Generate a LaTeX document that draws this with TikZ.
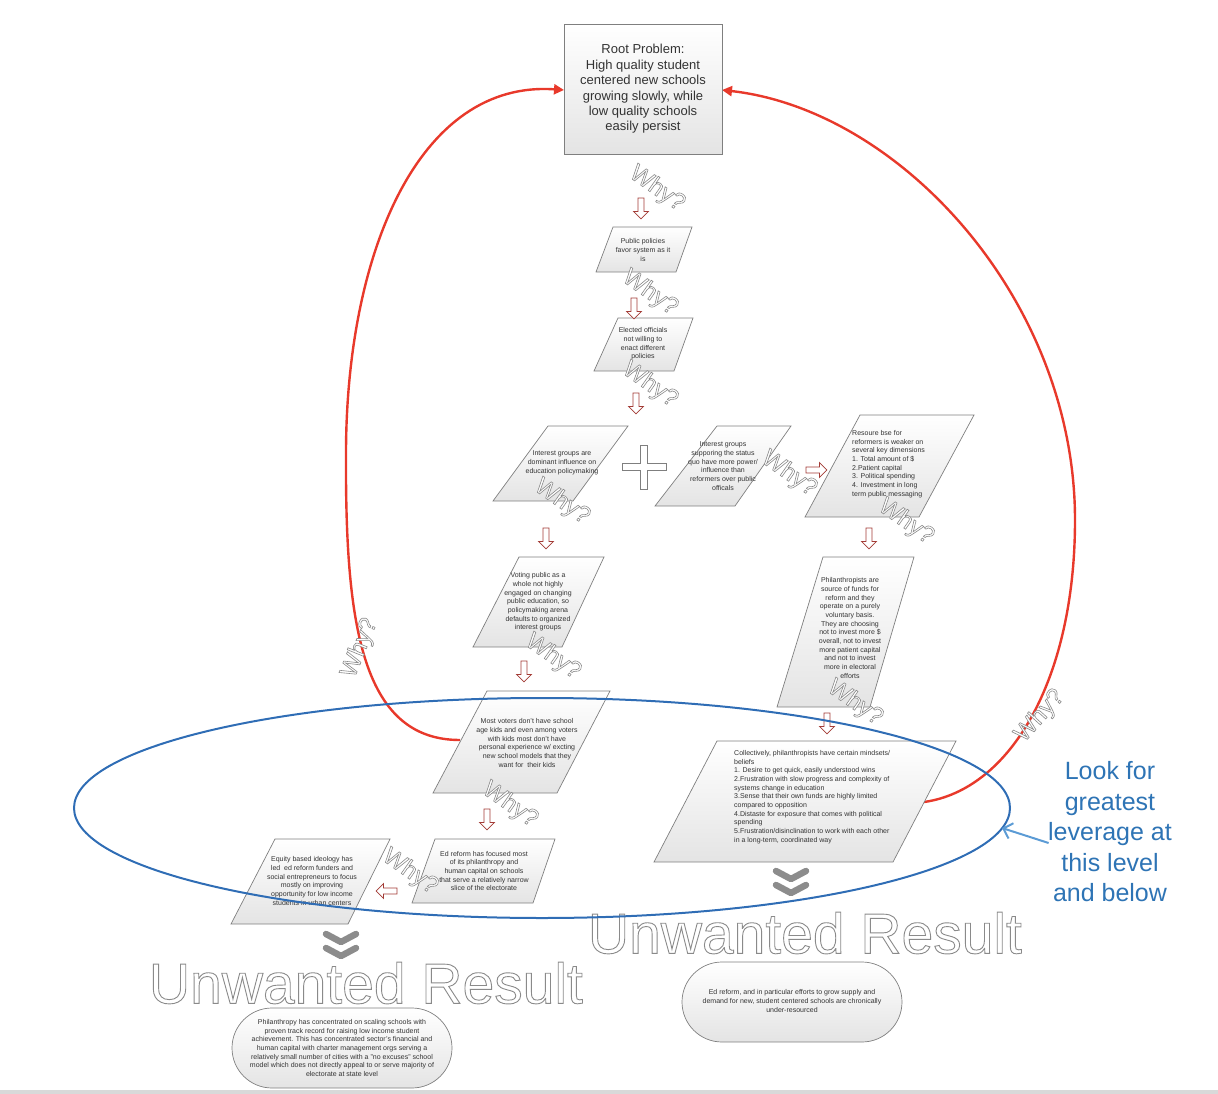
\documentclass[tikz,border=0pt]{standalone}
\usepackage{fontspec}
\setmainfont{Liberation Sans}
\usetikzlibrary{arrows.meta,calc,positioning,shapes.arrows,shapes.geometric}
\definecolor{BoxLine}{HTML}{7F7F7F}
\definecolor{BoxShade}{HTML}{E4E4E4}
\definecolor{TextGray}{HTML}{333333}
\definecolor{WhyRed}{HTML}{A33B36}
\definecolor{LoopRed}{HTML}{E8392B}
\definecolor{RingBlue}{HTML}{2F6DB5}
\definecolor{HintBlue}{HTML}{2E74B5}
\definecolor{HintArrow}{HTML}{5B9BD5}
\definecolor{ChevGray}{HTML}{8C8C8C}
% white letters with a gray rim
\newcommand\outl[2][0.6]{{\color{white}\special{pdf:literal direct 2 Tr #1 w 0.54 0.54 0.54 RG}#2\special{pdf:literal direct 0 Tr}}}

\begin{document}
\begin{tikzpicture}[x=1pt,y=-1pt,
    para/.style={draw=BoxLine,line width=0.7pt,top color=white,bottom color=BoxShade},
    note/.style={font=\fontsize{7}{8.7}\selectfont,text=TextGray,align=center,inner sep=0pt},
    whytag/.style={font=\fontsize{24}{24}\selectfont,inner sep=0pt},
    redtip/.style={single arrow,draw=WhyRed,fill=white,line width=0.7pt,inner sep=2.6pt,
      minimum height=21pt,single arrow head extend=4.5pt},
    loop/.style={LoopRed,line width=2.4pt,-{Triangle[length=10pt,width=10pt]}},
    result/.style={draw=BoxLine,line width=0.7pt,top color=white,bottom color=BoxShade,
      rounded corners=40pt}]
  \useasboundingbox (0,0) rectangle (1218,1094);
  \fill[black!15] (0,1090) rectangle (1218,1094);

  % red loops back to the root problem
  \coordinate (loopL) at (460,740);
  \coordinate (loopR) at (924,802);
  \coordinate (rootL) at (564,90);
  \coordinate (rootR) at (722,90);
  \draw[loop] (loopL) .. controls (360,740) and (345,620) .. (346,450)
    .. controls (347,250) and (420,80) .. (rootL);
  \draw[loop] (loopR) .. controls (1010,790) and (1075,680) .. (1075,520)
    .. controls (1075,300) and (900,110) .. (rootR);

  % root problem
  \path[para] (564,24) rectangle (722,154);
  \node[font=\fontsize{13}{15.4}\selectfont,text=TextGray,align=center] (root) at (643,89)
    {Root Problem:\\High quality student\\centered new schools\\growing slowly, while\\low quality schools\\easily persist};

  % the why-chain
  \path[para] (613,227) -- (692,227) -- (676,272) -- (596,272) -- cycle;
  \node[note] (policies) at (643,250) {Public policies\\favor system as it\\is};
  \path[para] (618,318) -- (693,318) -- (674,371) -- (594,371) -- cycle;
  \node[note] (officials) at (643,344) {Elected officials\\not willing to\\enact different\\policies};
  \path[para] (548,426) -- (628,426) -- (573,501) -- (493,501) -- cycle;
  \node[note] (groups) at (562,463) {Interest groups are\\dominant influence on\\education policymaking};
  \path[para] (717,426) -- (791,426) -- (735,506) -- (655,506) -- cycle;
  \node[note] (statusquo) at (723,466) {Interest groups\\supporing the status\\quo have more power/\\influence than\\reformers over public\\officals};
  \path[para] (860,415) -- (974,415) -- (919,517) -- (805,517) -- cycle;
  \node[note,align=left,anchor=west] (resources) at (852,464) {Resoure bse for\\reformers is weaker on\\several key dimensions\\1. Total amount of \$\\2.Patient capital\\3. Political spending\\4. Investment in long\\term public messaging};
  \path[para] (519,557) -- (604,557) -- (562,647) -- (473,647) -- cycle;
  \node[note] (voting) at (538,602) {Voting public as a\\whole not highly\\engaged on changing\\public education, so\\policymaking arena\\defaults to organized\\interest groups};
  \path[para] (823,557) -- (914,557) -- (870,707) -- (777,707) -- cycle;
  \node[note] (philan) at (850,628) {Philanthropists are\\source of funds for\\reform and they\\operate on a purely\\voluntary basis.\\They are choosing\\not to invest more \$\\overall, not to invest\\more patient capital\\and not to invest\\more in electoral\\efforts};
  \path[para] (487,691) -- (610,691) -- (557,793) -- (433,793) -- cycle;
  \node[note] (voters) at (527,743) {Most voters don't have school\\age kids and even among voters\\with kids most don't have\\personal experience w/ excting\\new school models that they\\want for\ \ their kids};
  \path[para] (717,741) -- (956,741) -- (893,862) -- (654,862) -- cycle;
  \node[note,align=left,anchor=west] (mindsets) at (734,797) {Collectively, philanthropists have certain mindsets/\\beliefs\\1. Desire to get quick, easily understood wins\\2.Frustration with slow progress and complexity of\\systems change in education\\3.Sense that their own funds are highly limited\\compared to opposition\\4.Distaste for exposure that comes with political\\spending\\5.Frustration/disinclination to work with each other\\in a long-term, coordinated way};
  \path[para] (275,839) -- (390,839) -- (348,924) -- (231,924) -- cycle;
  \node[note] (equity) at (312,881) {Equity based ideology has\\led\ \ ed reform funders and\\social entrepreneurs to focus\\mostly on improving\\opportunity for low income\\students in urban centers};
  \path[para] (435,839) -- (555,839) -- (533,903) -- (412,903) -- cycle;
  \node[note] (edfocus) at (484,871) {Ed reform has focused most\\of its philanthropy and\\human capital on schools\\that serve a relatively narrow\\slice of the electorate};

  % plus between the two interest group boxes
  \draw[BoxLine,fill=white,line width=0.7pt] (640.5,445) -- (647.5,445) -- (647.5,463.5) -- (666,463.5)
    -- (666,470.5) -- (647.5,470.5) -- (647.5,489) -- (640.5,489) -- (640.5,470.5) -- (622,470.5)
    -- (622,463.5) -- (640.5,463.5) -- cycle;

  % red arrows and why-tags
  \foreach \x/\y/\d [count=\i] in {641/207/270,634/307/270,636/402/270,546/537/270,815/470/0,
      869/537/270,524/670/270,827/722/270,487/818/270,388/891/180}
    \node[redtip,shape border rotate=\d] (tip\i) at (\x,\y) {};
  \foreach \x/\y/\r [count=\i] in {657/189/-35,650/293/-35,650/385/-35,562/502/-35,789/474/-35,
      906/522/-35,553/657/-35,855/703/-35,510/805/-35,410/872/-35,360/648/68,1040/716/48}
    \node[whytag,rotate=\r] (why\i) at (\x,\y) {\outl{Why?}};

  % unwanted results
  \foreach \cx/\cy in {341/934,791/871}
    \foreach \dy in {0,14}
      \draw[ChevGray,line width=6.5pt,line cap=round,line join=round]
        (\cx-15,\cy+\dy) -- (\cx,\cy+\dy+8) -- (\cx+15,\cy+\dy);
  \node[font=\fontsize{57}{57}\selectfont,inner sep=0pt] (unwantedL) at (366,983) {\outl[0.9]{Unwanted Result}};
  \node[font=\fontsize{57}{57}\selectfont,inner sep=0pt] (unwantedR) at (805,933) {\outl[0.9]{Unwanted Result}};
  \path[result] (232,1008) rectangle (452,1088);
  \node[note] (resultL) at (342,1048) {Philanthropy has concentrated on scaling schools with\\proven track record for raising low income student\\achievement. This has concentrated sector's financial and\\human capital with charter management orgs serving a\\relatively small number of cities with a "no excuses" school\\model which does not directly appeal to or serve majority of\\electorate at state level};
  \path[result] (682,962) rectangle (902,1042);
  \node[note] (resultR) at (792,1001) {Ed reform, and in particular efforts to grow supply and\\demand for new, student centered schools are chronically\\under-resourced};

  % leverage ring
  \draw[RingBlue,line width=2pt] (542,808) ellipse [x radius=468, y radius=110];
  \coordinate (ringtouch) at (1002,828);
  \node[font=\fontsize{25}{30.5}\selectfont,text=HintBlue,align=center] (hint) at (1110,832)
    {Look for\\greatest\\leverage at\\this level\\and below};
  \draw[HintArrow,line width=2pt,-{Straight Barb[length=8pt,width=16pt]}]
    ([xshift=4pt,yshift=-11pt]hint.west) -- (ringtouch);
\end{tikzpicture}
\end{document}
